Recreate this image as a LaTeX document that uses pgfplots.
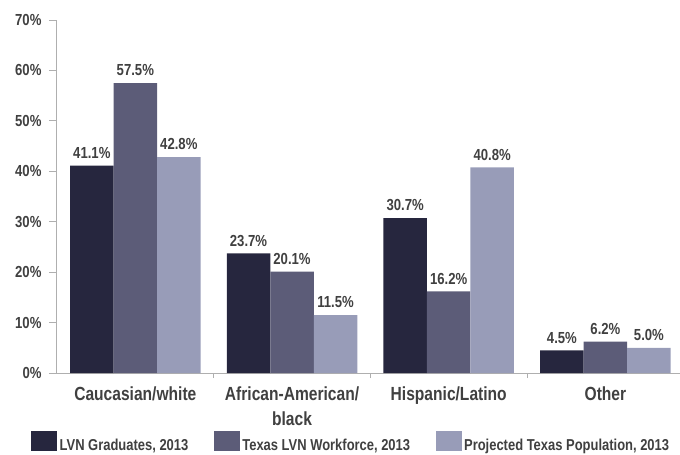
\documentclass[border=0pt]{standalone}
\usepackage{pgfplots}
\pgfplotsset{compat=1.18}
\usepackage{fontspec}
\setmainfont{Liberation Sans}[FakeStretch=0.82]
\definecolor{c1}{RGB}{38,38,62}
\definecolor{c2}{RGB}{92,92,120}
\definecolor{c3}{RGB}{152,156,184}
\definecolor{txt}{RGB}{64,64,64}
\definecolor{axc}{RGB}{175,175,175}
\begin{document}
\begin{tikzpicture}
\path[use as bounding box] (-57pt,-82pt) rectangle (623pt,373pt);
\begin{axis}[
  scale only axis, width=623pt, height=353pt,
  ybar=0pt, bar width=43.5pt,
  ymin=0, ymax=70, xmin=-0.5, xmax=3.476,
  axis lines*=left,
  axis line style={draw=axc, line width=1pt},
  tick style={draw=axc, line width=1pt},
  tick align=outside,
  ytick={0,10,...,70},
  yticklabel={\pgfmathprintnumber{\tick}\%},
  major tick length=8pt,
  xtick={0,1,2,3},
  xticklabels={Caucasian/white, African-American/\\black, Hispanic/Latino, Other},
  major x tick style={draw=none},
  minor xtick={0.5,1.5,2.5},
  minor tick length=5pt,
  /pgf/number format/assume math mode=true,
  ticklabel style={text=txt, font=\bfseries\fontsize{16}{16}\selectfont},
  yticklabel style={xshift=-4pt},
  xticklabel style={font=\bfseries\fontsize{19}{25}\selectfont, align=center, text=txt, yshift=-2pt},
  nodes near coords={\pgfmathprintnumber[fixed,fixed zerofill,precision=1]{\pgfplotspointmeta}\%},
  every node near coord/.append style={font=\bfseries\fontsize{16}{16}\selectfont, text=txt, inner sep=0pt, text depth=0pt, yshift=7pt},
  legend columns=3,
  legend image code/.code={\fill[#1] (0pt,-5pt) rectangle (26pt,15pt);},
  legend style={draw=none, at={(0,0)}, anchor=south west, xshift=-26pt, yshift=-82pt,
    inner sep=0pt, font=\bfseries\fontsize{15.8}{16}\selectfont, text=txt,
    nodes={inner sep=2.5pt},
    /tikz/every even column/.append style={column sep=23pt}},
]
\addplot[fill=c1, draw=none] coordinates {(0,41.1) (1,23.7) (2,30.7) (3,4.5)};
\addplot[fill=c2, draw=none] coordinates {(0,57.5) (1,20.1) (2,16.2) (3,6.2)};
\addplot[fill=c3, draw=none] coordinates {(0,42.8) (1,11.5) (2,40.8) (3,5.0)};
\legend{{LVN Graduates, 2013}, {Texas LVN Workforce, 2013}, {Projected Texas Population, 2013}}
\end{axis}
\end{tikzpicture}
\end{document}
